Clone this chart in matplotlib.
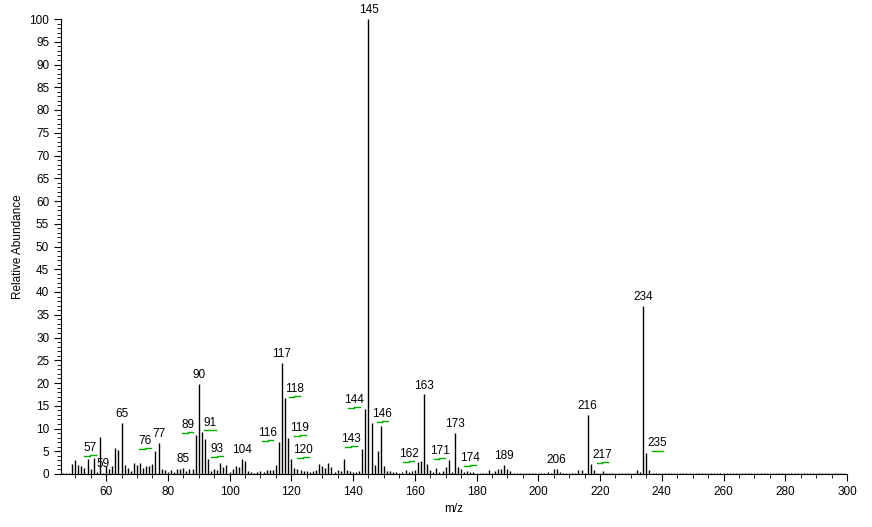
import numpy as np
import matplotlib.pyplot as plt
from matplotlib.ticker import MultipleLocator

# m/z and relative abundance
mz = np.arange(46, 301)
abund = np.full(mz.shape, 0.3)
peaks = {
    50: 2.2, 51: 3.0, 52: 2.0, 53: 1.8, 54: 1.3, 55: 3.3, 56: 1.2, 57: 3.5, 58: 0.5,
    59: 8.1, 60: 0.3, 61: 1.7, 62: 1.1, 63: 1.7, 64: 5.7, 65: 5.3, 66: 11.3,
    67: 1.9, 68: 1.3, 69: 0.7, 70: 2.5, 71: 1.9, 72: 2.5, 73: 1.3, 74: 1.8, 75: 1.8,
    76: 2.1, 77: 5.0, 78: 6.9, 79: 1.2, 80: 0.9, 81: 0.5, 82: 0.9, 83: 0.4, 84: 1.2,
    85: 1.0, 86: 1.4, 87: 0.6, 88: 1.0, 89: 1.0, 90: 8.6, 91: 19.8, 92: 9.2, 93: 7.7,
    94: 3.3, 95: 0.6, 96: 1.0, 97: 0.9, 98: 2.5, 99: 1.5, 100: 2.0, 101: 0.5,
    102: 1.0, 103: 1.7, 104: 1.5, 105: 3.3, 106: 2.8, 107: 0.6, 108: 0.5, 109: 0.3,
    110: 0.5, 111: 0.7, 112: 0.5, 113: 0.8, 114: 0.9, 115: 0.8, 116: 2.0, 117: 7.0,
    118: 24.4, 119: 16.8, 120: 8.0, 121: 3.3, 122: 1.4, 123: 1.0, 124: 0.8, 125: 0.6,
    126: 0.7, 127: 0.4, 128: 0.6, 129: 0.8, 130: 2.3, 131: 1.8, 132: 1.3, 133: 2.5,
    134: 1.6, 135: 0.4, 136: 0.8, 137: 0.6, 138: 3.3, 139: 0.8, 140: 0.6, 141: 0.4,
    142: 0.5, 143: 0.6, 144: 5.5, 145: 14.2, 146: 100, 147: 11.2, 148: 2.0, 149: 5.0,
    150: 10.5, 151: 1.8, 152: 0.7, 153: 0.6, 154: 0.4, 155: 0.5, 156: 0.3, 157: 0.4,
    158: 0.8, 159: 0.4, 160: 0.6, 161: 0.9, 162: 2.6, 163: 2.9, 164: 17.5, 165: 2.2,
    166: 0.8, 167: 0.5, 168: 1.4, 169: 0.4, 170: 0.7, 171: 1.6, 172: 3.1, 173: 0.5,
    174: 9.0, 175: 1.5, 176: 1.0, 177: 0.5, 178: 0.6, 179: 0.4, 180: 0.5,
    185: 0.8, 187: 0.6, 188: 1.0, 189: 1.0, 190: 2.0, 191: 1.2, 192: 0.6,
    204: 0.5, 206: 1.0, 207: 1.2, 208: 0.5, 214: 0.8, 215: 0.8,
    217: 13.0, 218: 2.3, 219: 0.8, 222: 0.6, 233: 0.8, 234: 0.4,
    235: 37.0, 236: 4.7, 237: 0.9,
}
for k, v in peaks.items():
    abund[mz == k] = v
# peak list above was read one channel high; shift back to true m/z
mz_plot = mz - 1

# plain labels sit right above the peak
plain_labels = [59, 65, 77, 85, 90, 104, 117, 145, 163, 173, 189, 206, 216, 234]
# labels with green underline: (m/z, label x, line y)
green_labels = [
    (57, 54.8, 4.0), (76, 72.5, 5.5), (89, 86.4, 9.0), (91, 93.7, 9.6),
    (93, 96.0, 3.7), (116, 112.3, 7.3), (118, 121.0, 17.0), (119, 122.8, 8.4),
    (120, 123.8, 3.6), (143, 139.3, 6.0), (144, 140.3, 14.6), (146, 149.5, 11.5),
    (162, 158.0, 2.7), (171, 168.0, 3.4), (174, 178.0, 1.8), (217, 220.8, 2.4),
    (235, 238.6, 5.0),
]

fig = plt.figure(figsize=(8.72, 5.27), dpi=100)
ax = fig.add_axes([61/872, 53/527, 786/872, 455/527])
plt.rcParams['font.family'] = ['Liberation Sans', 'DejaVu Sans']
fs = 8.5

ax.vlines(mz_plot, 0, abund, color='black', lw=1)

for m in plain_labels:
    h = abund[mz_plot == m][0]
    ax.text(m, h + 0.6, str(m), ha='center', va='bottom', fontsize=fs,
            family='Liberation Sans')
for m, lx, ly in green_labels:
    ax.plot([lx - 1.9, lx], [ly, ly + 0.0], color='#00b000', lw=1)
    ax.plot([lx, lx + 1.9], [ly + 0.15, ly + 0.15], color='#00b000', lw=1)
    ax.text(lx, ly + 0.4, str(m), ha='center', va='bottom', fontsize=fs,
            family='Liberation Sans')

ax.set_xlim(45.4, 300)
ax.set_ylim(0, 100)
ax.spines['top'].set_visible(False)
ax.spines['right'].set_visible(False)
ax.xaxis.set_major_locator(MultipleLocator(20))
ax.xaxis.set_minor_locator(MultipleLocator(5))
ax.yaxis.set_major_locator(MultipleLocator(5))
ax.yaxis.set_minor_locator(MultipleLocator(1))
ax.tick_params(which='major', length=5, labelsize=fs)
ax.tick_params(which='minor', length=3)
for lab in ax.get_xticklabels() + ax.get_yticklabels():
    lab.set_family('Liberation Sans')
ax.set_xlabel('m/z', fontsize=fs, family='Liberation Sans', labelpad=4)
ax.set_ylabel('Relative Abundance', fontsize=fs, family='Liberation Sans', labelpad=4)

fig.savefig('out.png', dpi=100)
